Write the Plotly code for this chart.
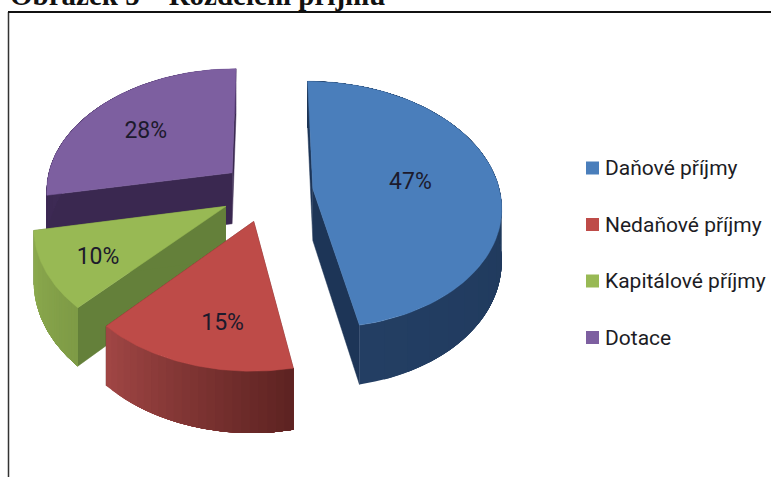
import numpy as np
import plotly.graph_objects as go

categories = ["Daňové příjmy", "Nedaňové příjmy", "Kapitálové příjmy", "Dotace"]
shares = [47, 15, 10, 28]
title_text = "Obrázek 5 – Rozdělení příjmů"

top_colors = ["#4a7ebb", "#be4b48", "#98b954", "#7d5fa0"]
cut_colors = ["#1d3557", "#6b2a29", "#64803a", "#3a2850"]
rim_left = ["#233e63", "#a04644", "#8dab4e", "#4a3366"]
rim_right = ["#1d3555", "#5e2322", "#7e9b46", "#3a2850"]
label_angle = [85, 191, 238, 306]
label_radius = [0.53, 0.73, 0.74, 0.62]

# pie projection, in page pixels
CX, CY = 267, 191.6
RX, RY = 187, 122
PERSPECTIVE = 0.129
EXPLODE = 0.247
DEPTH = 52
LABEL_FONT = "Roboto"


def project(u, v):
    s = 1 / (1 + PERSPECTIVE * v)
    return CX + RX * u * s, CY - RY * v * s, s


def slice_point(theta, r, mid):
    u = EXPLODE * np.sin(mid) + r * np.sin(theta)
    v = EXPLODE * np.cos(mid) + r * np.cos(theta)
    return project(u, v)


def hex_mix(c0, c1, t):
    a = [int(c0[i:i + 2], 16) for i in (1, 3, 5)]
    b = [int(c1[i:i + 2], 16) for i in (1, 3, 5)]
    return "#" + "".join(f"{round(x + (y - x) * t):02x}" for x, y in zip(a, b))


def add_poly(fig, xs, ys, color, width=0.5):
    fig.add_trace(go.Scatter(x=list(xs), y=list(ys), mode="lines", fill="toself",
                             fillcolor=color, line=dict(color=color, width=width),
                             hoverinfo="skip", showlegend=False))


def draw_slice(fig, i, start, end):
    mid = (start + end) / 2
    apex = slice_point(0, 0, mid)
    # cut faces
    for theta in (start, end):
        p = slice_point(theta, 1, mid)
        add_poly(fig,
                 [apex[0], p[0], p[0], apex[0]],
                 [apex[1], p[1], p[1] + DEPTH * p[2], apex[1] + DEPTH * apex[2]],
                 cut_colors[i])
    # outer rim: each piece runs on to the slice end so no seams show between them
    edges = np.linspace(end, start, 25)
    for k in range(24):
        t = np.linspace(edges[k], start, 40)
        x, y, s = slice_point(t, 1, mid)
        add_poly(fig,
                 np.concatenate([x, x[::-1]]),
                 np.concatenate([y, (y + DEPTH * s)[::-1]]),
                 hex_mix(rim_left[i], rim_right[i], k / 23), width=0)
    # top face
    t = np.linspace(start, end, 80)
    x, y, _ = slice_point(t, 1, mid)
    add_poly(fig, [apex[0], *x, apex[0]], [apex[1], *y, apex[1]], top_colors[i])


angles = np.cumsum([0] + shares) / sum(shares) * 2 * np.pi
fig = go.Figure()

# back slices first
for i in (3, 2, 0, 1):
    draw_slice(fig, i, angles[i], angles[i + 1])

for i, v in enumerate(shares):
    mid = (angles[i] + angles[i + 1]) / 2
    x, y, _ = slice_point(np.radians(label_angle[i]), label_radius[i], mid)
    fig.add_trace(go.Scatter(x=[x], y=[y], mode="text", text=[f"{v}%"],
                             textposition="middle center",
                             textfont=dict(family=LABEL_FONT, size=23, color="#1c1a2c"),
                             hoverinfo="skip", showlegend=False))

# legend
for i, name in enumerate(categories):
    y = 168 + i * 56.5
    fig.add_trace(go.Scatter(x=[592.5], y=[y], mode="markers",
                             marker=dict(symbol="square", size=13, color=top_colors[i]),
                             hoverinfo="skip", showlegend=False))
    fig.add_annotation(x=603, y=y, text=name, showarrow=False, xanchor="left", yanchor="middle",
                       font=dict(family=LABEL_FONT, size=21, color="#1c1c24"))

# frame and clipped caption
fig.add_shape(type="line", x0=8.5, x1=8.5, y0=12, y1=477, line=dict(color="#333333", width=1.5))
fig.add_shape(type="line", x0=8, x1=771, y0=12, y1=12, line=dict(color="#111111", width=2))
fig.add_annotation(x=8, y=7, text=f"<b>{title_text}</b>", showarrow=False, xanchor="left", yanchor="bottom",
                   yshift=-6, font=dict(family="Liberation Serif", size=29, color="#111111"))

fig.update_xaxes(range=[0, 771], visible=False, fixedrange=True)
fig.update_yaxes(range=[477, 0], visible=False, fixedrange=True)
fig.update_layout(width=771, height=477, margin=dict(l=0, r=0, t=0, b=0),
                  paper_bgcolor="white", plot_bgcolor="white", showlegend=False)

fig.write_html("out.html", config=dict(displayModeBar=False),
               post_script="document.body.style.margin='0';")
